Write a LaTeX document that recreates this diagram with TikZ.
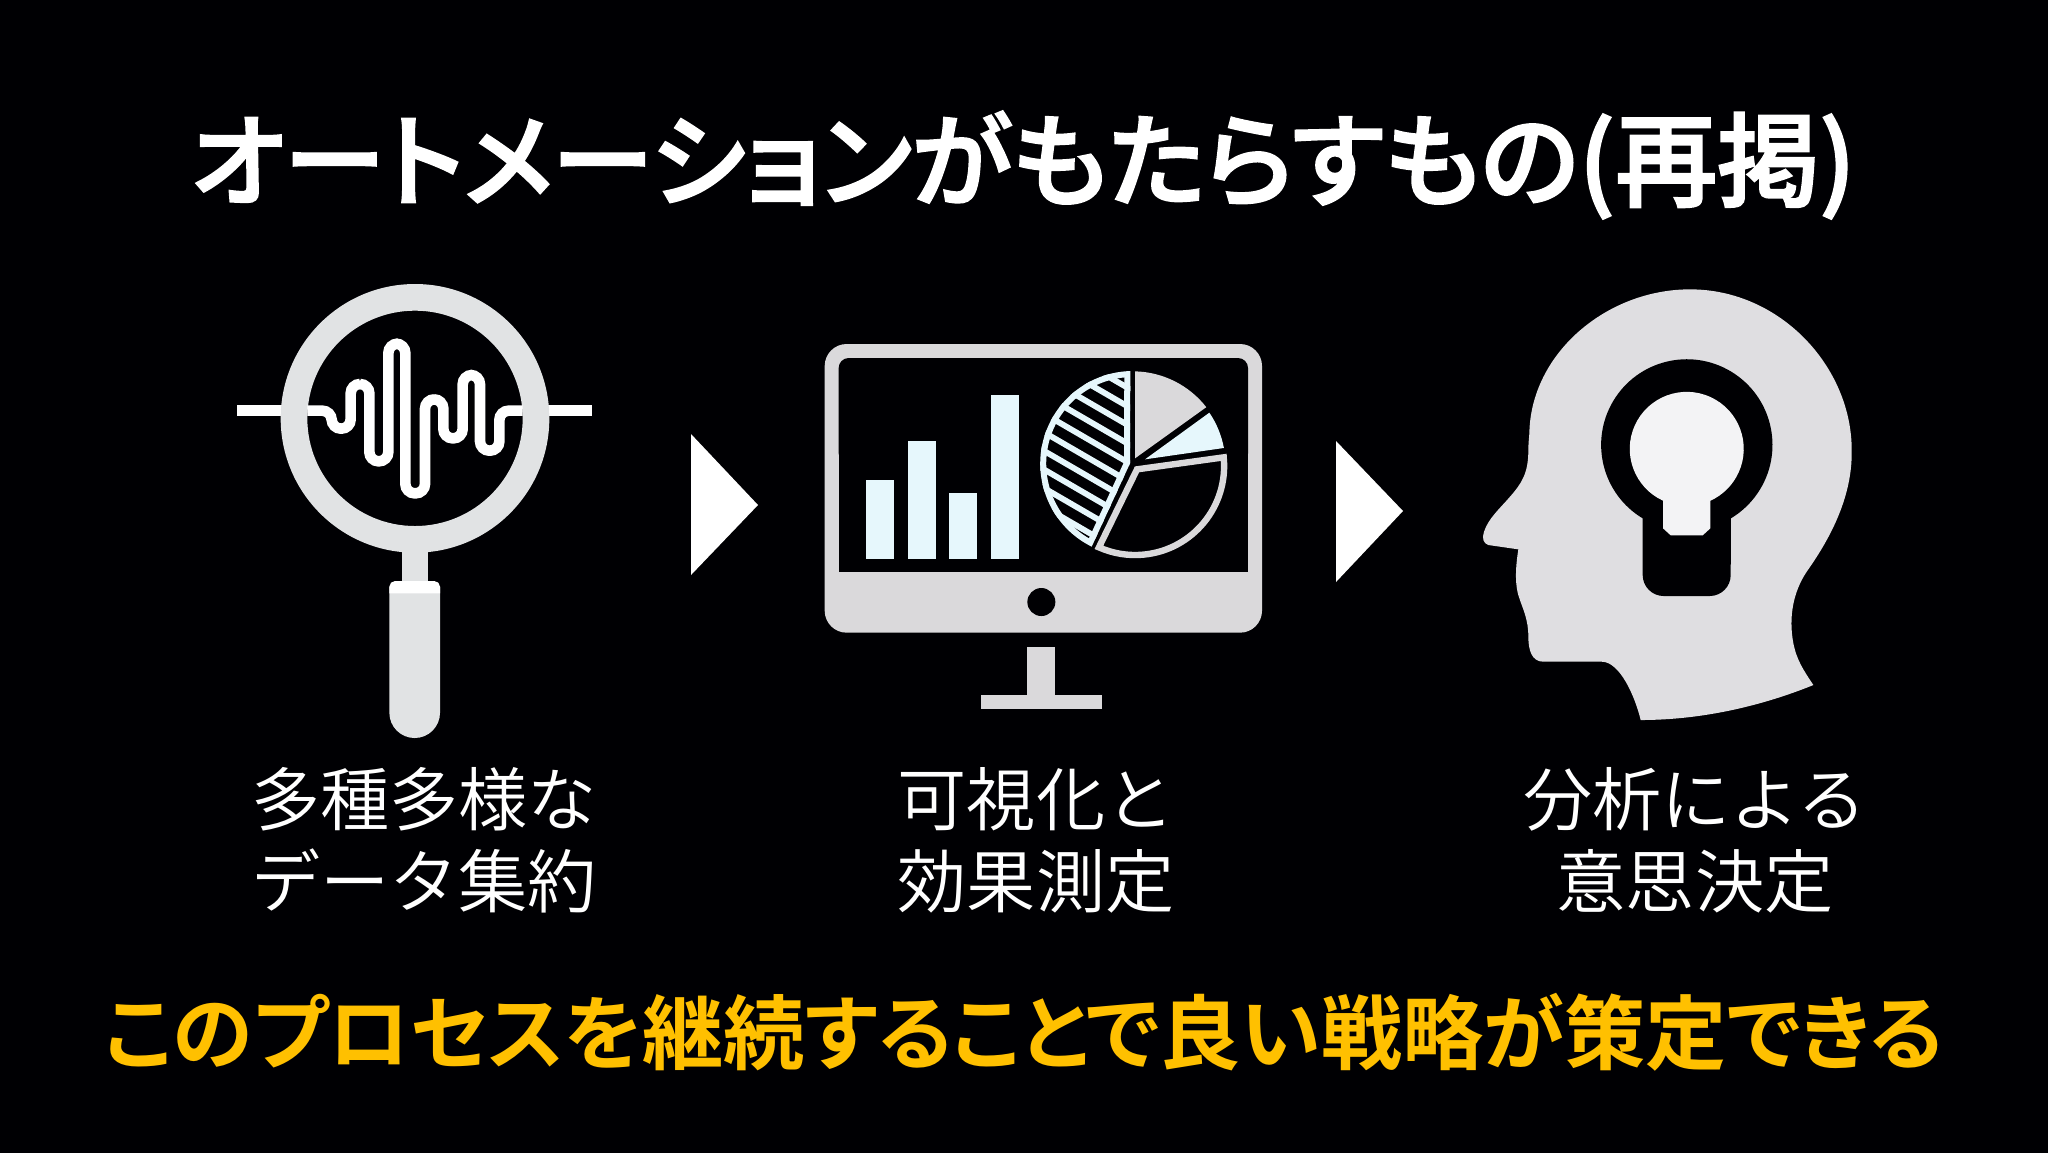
\documentclass[tikz,border=0pt]{standalone}
\usepackage{fontspec}
\setmainfont{Noto Sans CJK JP}
\newfontfamily\lightcjk{Noto Sans CJK JP DemiLight}
\newfontfamily\midcjk[RawFeature=+palt,FakeBold=2.2]{Noto Sans CJK JP Medium}
\newfontfamily\boldcjk[RawFeature=+palt]{Noto Sans CJK JP Bold}
\usetikzlibrary{calc}
\definecolor{ink}{HTML}{000003}
\definecolor{ringc}{HTML}{E1E3E4}
\definecolor{moni}{HTML}{DAD9DB}
\definecolor{barc}{HTML}{E6F7FC}
\definecolor{headc}{HTML}{DFDEE1}
\definecolor{bulbc}{HTML}{F3F3F5}
\definecolor{gold}{HTML}{FFC000}
\tikzset{
  zoomA/.style={shift={(220,270)},x=0.166667pt,y=-0.166667pt},
  zoomB/.style={shift={(810,330)},x=0.166667pt,y=-0.166667pt},
  zoomC/.style={shift={(1460,270)},x=0.166667pt,y=-0.166667pt},
  titletext/.style={text=white,font=\midcjk\fontsize{51pt}{54pt}\selectfont,inner sep=0pt},
  labeltext/.style={text=white,font=\lightcjk\fontsize{34.6pt}{41pt}\selectfont,align=center,inner sep=0pt},
  goaltext/.style={text=gold,font=\boldcjk\fontsize{40.6pt}{44pt}\selectfont,inner sep=0pt},
  arrowtri/.style={fill=white,draw=none},
}
\begin{document}
\begin{tikzpicture}[x=0.5pt,y=-0.5pt]
\useasboundingbox (0,0) rectangle (2048,1152);
\fill[ink] (-5,-5) rectangle (2053,1157);
\node[titletext] (title) at (1023,165) {オートメーションがもたらすもの(再掲)};
% magnifier
\begin{scope}[zoomA]
\fill[white] (52,406) rectangle (190,438);
\fill[white] (980,406) rectangle (1116,438);
\fill[ringc] (546,830) rectangle (624,950);
\fill[ringc,even odd rule] (585,445) circle[radius=403] (585,445) circle[radius=323];
\fill[ringc] (508,950) -- (660,950) -- (660,1328) arc[start angle=0,end angle=180,radius=76] -- cycle;
\fill[white] (508,970) -- (508,950) arc[start angle=180,end angle=270,radius=17] -- (643,933) arc[start angle=270,end angle=360,radius=17] -- (660,970) -- cycle;
\draw[white,line width=5.3pt,rounded corners=4.7pt]
 (262,422) -- (335,422) -- (335,476) -- (392,476) -- (392,342) -- (448,342) -- (448,574) -- (505,574)
 -- (505,221) -- (556,221) -- (556,670) -- (615,670) -- (615,388) -- (670,388) -- (670,505)
 -- (728,505) -- (728,315) -- (780,315) -- (780,542) -- (838,542) -- (838,422) -- (908,422);
\end{scope}
% arrows
\fill[arrowtri] (691,434) -- (758,505) -- (691,575) -- cycle;
\fill[arrowtri] (1336,441) -- (1403,511) -- (1336,582) -- cycle;
% monitor
\begin{scope}[zoomB]
\fill[moni] (652,950) rectangle (734,1100);
\fill[moni] (512,1095) rectangle (876,1136);
\fill[moni,rounded corners=11pt] (44,42) rectangle (1356,908);
\fill[ink,rounded corners=5pt] (86,84) rectangle (1314,400);
\fill[ink] (86,200) rectangle (1314,727);
\fill[ink] (694,816) circle[radius=42];
\fill[barc] (168,450) rectangle (252,686);
\fill[barc] (293,333) rectangle (377,686);
\fill[barc] (418,488) rectangle (501,686);
\fill[barc] (543,194) rectangle (627,686);
\begin{scope}
\clip (960,400) -- (845,650) arc[start angle=116.4,end angle=268.4,radius=278] -- cycle;
\foreach \k in {0,...,10}{
  \draw[barc,line width=2.9pt] (600,{167+55.8*\k-0.58*342}) -- (1000,{167+55.8*\k+0.58*58});
}
\draw[barc,line width=6pt] (960,400) -- (845,650) arc[start angle=116.4,end angle=268.4,radius=278] -- cycle;
\end{scope}
\fill[moni] (975,124) arc[start angle=-88.6,end angle=-38,radius=280] -- (975,385) -- cycle;
\fill[barc] (1005,388) -- (1198,248) arc[start angle=-34.2,end angle=-10.6,radius=280] -- cycle;
\draw[moni,line width=3.2pt,line join=miter] (981,418) -- (1241,382) arc[start angle=-5.6,end angle=114,radius=267] -- cycle;
\end{scope}
% head
\begin{scope}[zoomC]
\fill[headc] (542,1350) .. controls (525,1280) and (480,1175) .. (425,1175) -- (250,1175)
  .. controls (215,1175) and (205,1140) .. (205,1100)
  .. controls (205,1050) and (190,1020) .. (178,985)
  .. controls (165,950) and (165,900) .. (175,838)
  -- (85,825) .. controls (70,820) and (65,805) .. (72,785)
  .. controls (85,745) and (120,715) .. (150,680)
  .. controls (185,640) and (205,610) .. (205,540)
  .. controls (205,520) and (207,505) .. (208,490)
  .. controls (212,250) and (440,58) .. (690,58)
  .. controls (960,58) and (1175,290) .. (1175,540)
  .. controls (1178,690) and (1100,820) .. (1040,905)
  .. controls (1000,965) and (985,1040) .. (1000,1120)
  .. controls (1010,1170) and (1030,1200) .. (1060,1245)
  .. controls (900,1310) and (720,1350) .. (542,1350) -- cycle;
\fill[ink] (548,745) arc[start angle=121,end angle=419,radius=257] -- (812,915) arc[start angle=0,end angle=90,radius=63] -- (611,978) arc[start angle=90,end angle=180,radius=63] -- cycle;
\fill[bulbc] (609,692) arc[start angle=114.6,end angle=425.4,radius=171] -- (751,775) -- (728,796) -- (632,796) -- (609,775) -- cycle;
\end{scope}
\node[labeltext] (lab1) at (424,840) {多種多様な\\データ集約};
\node[labeltext] (lab2) at (1036,840) {可視化と\\効果測定};
\node[labeltext] (lab3) at (1695,840) {分析による\\意思決定};
\node[goaltext] (goal) at (1024,1032) {このプロセスを継続することで良い戦略が策定できる};
\end{tikzpicture}
\end{document}
